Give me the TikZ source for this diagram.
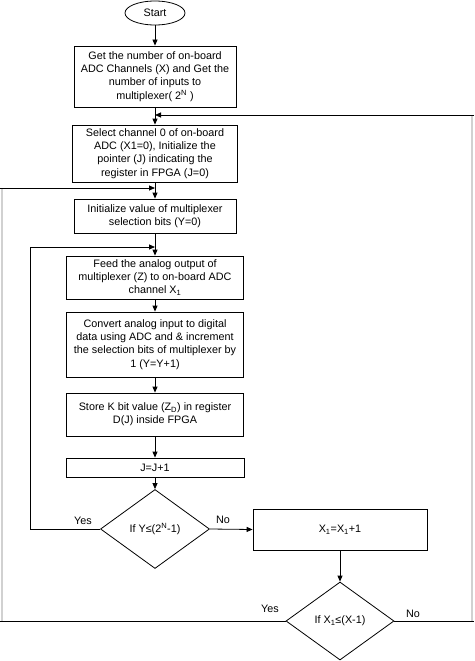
\documentclass[tikz,border=0pt]{standalone}
\usepackage{fontspec}
\setmainfont{Liberation Sans}
\usetikzlibrary{shapes.geometric,arrows.meta}
\begin{document}
\begin{tikzpicture}[x=1pt,y=-1pt,
  font=\fontsize{10.8}{13.2}\selectfont,
  box/.style={draw, line width=0.8pt, align=center, inner sep=1pt},
  dia/.style={draw, diamond, line width=0.8pt, inner sep=0pt, align=center},
  arr/.style={line width=0.8pt, -{Triangle[length=6pt,width=5pt]}},
  ln/.style={line width=0.8pt},
  faint/.style={line width=1.6pt, draw=black!18},
  lab/.style={inner sep=0pt}]
\useasboundingbox (0,0) rectangle (474,661);
\fill[white] (0,0) rectangle (474,661);
\begin{scope}
\clip (0,0) rectangle (474,661);
\node[draw, ellipse, line width=0.8pt, minimum width=60pt, minimum height=24pt, inner sep=0pt] (start) at (155,13) {Start};
\node[box, minimum width=162pt, minimum height=61pt] (b1) at (155,76.5) {Get the number of on-board\\ADC Channels (X) and Get the\\number of inputs to\\multiplexer( 2\textsuperscript{N} )};
\node[box, minimum width=165pt, minimum height=57pt] (b2) at (155,153.5) {Select channel 0 of on-board\\ADC (X1=0), Initialize the\\pointer (J) indicating the\\register in FPGA (J=0)};
\node[box, minimum width=162pt, minimum height=34pt] (b3) at (155,216) {Initialize value of multiplexer\\selection bits (Y=0)};
\node[box, minimum width=177pt, minimum height=43pt] (b4) at (155,277.5) {Feed the analog output of\\multiplexer (Z) to on-board ADC\\channel X\textsubscript{1}};
\node[box, minimum width=177pt, minimum height=65pt] (b5) at (155,344.5) {Convert analog input to digital\\data using ADC and \& increment\\the selection bits of multiplexer by\\1 (Y=Y+1)};
\node[box, minimum width=177pt, minimum height=43pt] (b6) at (155,414.5) {Store K bit value (Z\textsubscript{D}) in register\\D(J) inside FPGA};
\node[box, minimum width=178pt, minimum height=19pt] (b7) at (155,467.5) {J=J+1};
\node[dia, minimum width=109pt, minimum height=79pt] (d1) at (155,529) {If Y≤(2\textsuperscript{N}-1)};
\node[box, minimum width=174pt, minimum height=41pt] (b8) at (340,529.5) {X\textsubscript{1}=X\textsubscript{1}+1};
\node[dia, minimum width=108pt, minimum height=78pt] (d2) at (340,621) {If X\textsubscript{1}≤(X-1)};

\node[lab] (yes1) at (83,521) {Yes};
\node[lab] (no1) at (223,520) {No};
\node[lab] (yes2) at (270,609) {Yes};
\node[lab] (no2) at (413,614) {No};

\coordinate (rtop) at (474,115);
\coordinate (rcorner) at (472,621);
\coordinate (rend) at (474,621);
\coordinate (ltop) at (0,188);
\coordinate (lend) at (0,621);
\coordinate (loopx) at (30,529);

\draw[faint] (472,115) -- (rcorner);
\draw[faint] (2,188) -- (2,621);

\draw[arr] (start) -- (b1);
\draw[arr] (b1) -- (b2);
\draw[arr] (rtop) -- (b2.north |- rtop);
\draw[arr] (b2) -- (b3);
\draw[arr] (ltop) -- (b3.north |- ltop);
\draw[arr] (b3) -- (b4);
\draw[arr] (d1.west) -- (loopx) -- (loopx |- 0,247) -- (b4.north |- 0,247);
\draw[arr] (b4) -- (b5);
\draw[arr] (b5) -- (b6);
\draw[arr] (b6) -- (b7);
\draw[arr] (b7) -- (d1);
\draw[arr] (d1.east) -- (b8.west);
\draw[arr] (b8) -- (d2);
\draw[ln] (d2.west) -- (lend);
\draw[ln] (d2.east) -- (rend);
\end{scope}
\end{tikzpicture}
\end{document}
